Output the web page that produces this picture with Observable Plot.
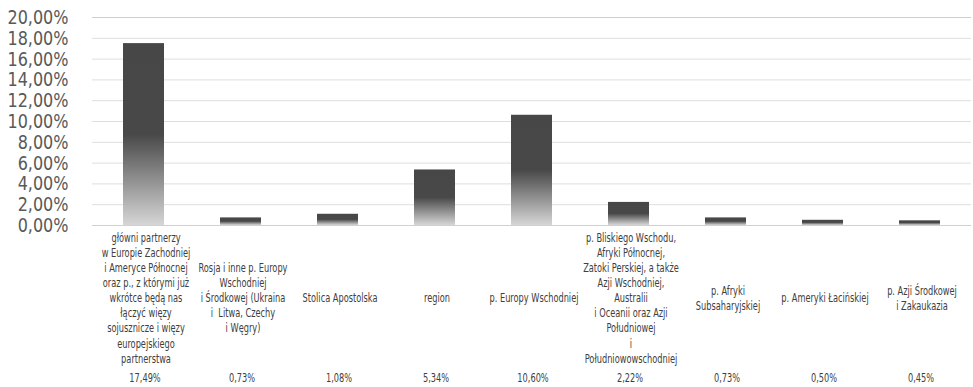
<!DOCTYPE html>
<html>
<head>
<meta charset="utf-8">
<script src="https://cdn.jsdelivr.net/npm/d3@7"></script>
<script src="https://cdn.jsdelivr.net/npm/@observablehq/plot@0.6"></script>
<style>
  html, body { margin: 0; padding: 0; background: #fff; }
  #chart { width: 973px; height: 387px; }
</style>
</head>
<body>
<div id="chart"></div>
<script>
const categories = [
  "główni partnerzy\nw Europie Zachodniej\ni Ameryce Północnej\noraz p., z którymi już\nwkrótce będą nas\nłączyć więzy\nsojusznicze i więzy\neuropejskiego\npartnerstwa",
  "Rosja i inne p. Europy\nWschodniej\ni Środkowej (Ukraina\ni  Litwa, Czechy\ni Węgry)",
  "Stolica Apostolska",
  "region",
  "p. Europy Wschodniej",
  "p. Bliskiego Wschodu,\nAfryki Północnej,\nZatoki Perskiej, a także\nAzji Wschodniej,\nAustralii\ni Oceanii oraz Azji\nPołudniowej\ni\nPołudniowowschodniej",
  "p. Afryki\nSubsaharyjskiej",
  "p. Ameryki Łacińskiej",
  "p. Azji Środkowej\ni Zakaukazia"
];
const values = [17.49, 0.73, 1.08, 5.34, 10.60, 2.22, 0.73, 0.50, 0.45];
const yTicks = [0, 2, 4, 6, 8, 10, 12, 14, 16, 18, 20];

const data = categories.map((c, i) => ({cat: c, value: values[i]}));
const pct = v => v.toFixed(2).replace(".", ",") + "%";
const FONT = '"DejaVu Sans Condensed", "Liberation Sans Narrow", "DejaVu Sans", sans-serif';

const chart = Plot.plot({
  width: 973,
  height: 387,
  marginTop: 17,
  marginBottom: 162,
  marginLeft: 92,
  marginRight: 2,
  style: {fontFamily: FONT, background: "#fff", overflow: "visible"},
  x: {domain: categories, paddingInner: 0.58, paddingOuter: 0.29, axis: null},
  y: {domain: [0, 20], ticks: yTicks, axis: null},
  marks: [
    Plot.gridY(yTicks.filter(t => t > 0 && t < 20), {stroke: "#dedede", strokeOpacity: 1, strokeWidth: 1}),
    Plot.ruleY([20], {stroke: "#cfcfcf", strokeWidth: 1}),
    Plot.barY(data, {x: "cat", y: "value", fill: "url(#barGrad)"}),
    Plot.ruleY([0], {stroke: "#d0d0d0", strokeWidth: 1.2}),
    Plot.axisY(yTicks, {
      label: null, tickSize: 0, tickPadding: 24, fontSize: 20, fill: "#595959",
      tickFormat: d => d.toFixed(2).replace(".", ",") + "%"
    }),
    Plot.text(data, {
      x: "cat", text: "cat", frameAnchor: "bottom", dy: 72, dx: 2,
      lineAnchor: "middle", lineHeight: 1.31, fontSize: 11.5, fill: "#404040"
    }),
    Plot.text(data, {
      x: "cat", text: d => pct(d.value), frameAnchor: "bottom", dy: 153, dx: 1,
      lineAnchor: "middle", fontSize: 11.5, fill: "#404040"
    })
  ]
});

const ns = "http://www.w3.org/2000/svg";
const defs = document.createElementNS(ns, "defs");
const grad = document.createElementNS(ns, "linearGradient");
grad.setAttribute("id", "barGrad");
grad.setAttribute("x1", "0"); grad.setAttribute("y1", "0");
grad.setAttribute("x2", "0"); grad.setAttribute("y2", "1");
[["0", "#474747"], ["0.5", "#484848"], ["1", "#d6d6d6"]].forEach(([o, c]) => {
  const s = document.createElementNS(ns, "stop");
  s.setAttribute("offset", o);
  s.setAttribute("stop-color", c);
  grad.appendChild(s);
});
defs.appendChild(grad);
chart.insertBefore(defs, chart.firstChild);

document.getElementById("chart").appendChild(chart);

// Condense text to mimic the narrow font of the original, keeping anchors
function parts(t) {
  const spans = t.querySelectorAll("tspan");
  return spans.length ? Array.from(spans) : [t];
}
const allTexts = Array.from(chart.querySelectorAll("text"));
const yTexts = allTexts.filter(t => t.closest('g[aria-label="y-axis tick label"]'));
const otherTexts = allTexts.filter(t => !yTexts.includes(t));
function factor(texts, ref, target) {
  for (const t of texts) for (const p of parts(t)) {
    if (p.textContent === ref) {
      const w = p.getComputedTextLength();
      if (w > 0) return target / w;
    }
  }
  return 0.8;
}
const kY = factor(yTexts, "20,00%", 61);
const kC = factor(otherTexts, "p. Europy Wschodniej", 89);
function apply(texts, k, anchor) {
  for (const t of texts) for (const p of parts(t)) {
    const len = p.getComputedTextLength();
    if (!(len > 0)) continue;
    const b0 = p.getBBox();
    p.setAttribute("textLength", (len * k).toFixed(2));
    p.setAttribute("lengthAdjust", "spacingAndGlyphs");
    const b1 = p.getBBox();
    const delta = anchor === "end"
      ? (b0.x + b0.width) - (b1.x + b1.width)
      : (b0.x + b0.width / 2) - (b1.x + b1.width / 2);
    if (Math.abs(delta) > 0.3) p.setAttribute("dx", delta.toFixed(2));
  }
}
apply(yTexts, kY, "end");
apply(otherTexts, kC, "middle");
</script>
</body>
</html>
